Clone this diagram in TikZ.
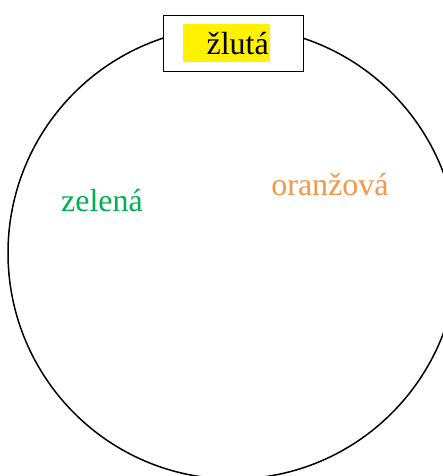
\documentclass[tikz,border=0pt]{standalone}
\usepackage{fontspec}
\setmainfont{Liberation Serif}
\usetikzlibrary{positioning}
\definecolor{zelenaC}{RGB}{0,176,80}
\definecolor{oranzC}{RGB}{247,150,70}
\tikzstyle{word} = [font=\fontsize{32}{38}\selectfont, inner sep=0pt, anchor=base]
\tikzstyle{frame} = [rectangle, draw=black, line width=0.9pt, fill=white, minimum width=140pt, minimum height=56pt]

\begin{document}
\begin{tikzpicture}[x=1pt, y=-1pt]
\useasboundingbox (0,0) rectangle (443,476);
\clip (0,0) rectangle (443,476);

% kruh
\draw [line width=1.5pt] (233,253) ellipse [x radius=225, y radius=226];

% rámeček nahoře
\node (box) [frame] at (233,43) {};
\fill [yellow] (183,24) rectangle (270,62);
\node (zluta) [word, anchor=base east] at (269,55) {žlutá};

% barvy uvnitř
\node (zelena) [word, text=zelenaC] at (102,211) {zelená};
\node (oranz)  [word, text=oranzC] at (330,195) {oranžová};

\end{tikzpicture}
\end{document}
